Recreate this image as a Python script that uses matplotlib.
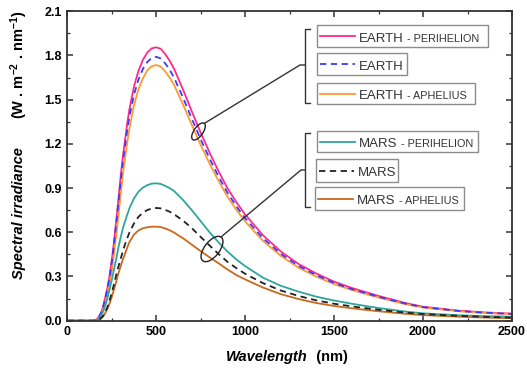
import matplotlib
matplotlib.use("Agg")
import matplotlib.pyplot as plt
from matplotlib.patches import Ellipse, Rectangle
from matplotlib.lines import Line2D
from matplotlib.transforms import Affine2D
from matplotlib.ticker import MultipleLocator

plt.rcParams['font.family'] = ['Liberation Sans', 'DejaVu Sans']
plt.rcParams['mathtext.fontset'] = 'custom'
plt.rcParams['mathtext.bf'] = 'Liberation Sans:bold'
plt.rcParams['mathtext.rm'] = 'Liberation Sans:bold'
plt.rcParams['mathtext.default'] = 'bf'

# data (nm, W m-2 nm-1)
wavelength = [0, 100, 150, 165, 180, 190, 200, 212, 225, 237, 250, 262, 275, 287, 300,
              312, 325, 337, 350, 375, 400, 425, 450, 475, 500,
              525, 550, 575, 600, 650, 700, 750, 800, 850, 900, 950, 1000,
              1100, 1200, 1300, 1400, 1500, 1600, 1750, 1900, 2000, 2200, 2350, 2500]
earth_peri = [0, 0, 0, 0.01, 0.03, 0.055, 0.09, 0.15, 0.22, 0.30, 0.41, 0.53, 0.68, 0.82, 0.98,
              1.11, 1.23, 1.34, 1.44, 1.59, 1.695, 1.77, 1.82, 1.848, 1.855,
              1.845, 1.81, 1.765, 1.71, 1.57, 1.42, 1.275, 1.14, 1.015, 0.90, 0.805, 0.72,
              0.58, 0.47, 0.385, 0.32, 0.265, 0.222, 0.168, 0.12, 0.095, 0.068, 0.056, 0.048]
earth = [0, 0, 0, 0.01, 0.029, 0.053, 0.087, 0.145, 0.212, 0.29, 0.396, 0.511, 0.656, 0.791, 0.946,
         1.071, 1.187, 1.293, 1.39, 1.534, 1.636, 1.708, 1.756, 1.783, 1.79,
         1.78, 1.747, 1.703, 1.65, 1.515, 1.37, 1.23, 1.10, 0.979, 0.869, 0.777, 0.695,
         0.56, 0.454, 0.372, 0.309, 0.256, 0.214, 0.162, 0.116, 0.092, 0.066, 0.054, 0.046]
earth_aph = [0, 0, 0, 0.005, 0.022, 0.041, 0.07, 0.115, 0.18, 0.25, 0.34, 0.45, 0.58, 0.71, 0.855,
             0.99, 1.105, 1.21, 1.31, 1.463, 1.57, 1.644, 1.70, 1.726, 1.735,
             1.725, 1.692, 1.65, 1.60, 1.468, 1.328, 1.192, 1.066, 0.949, 0.842, 0.753, 0.673,
             0.542, 0.44, 0.36, 0.299, 0.248, 0.208, 0.157, 0.112, 0.089, 0.064, 0.052, 0.045]
mars_peri = [0, 0, 0, 0.002, 0.015, 0.035, 0.058, 0.095, 0.15, 0.21, 0.275, 0.345, 0.42, 0.495, 0.565,
             0.625, 0.675, 0.72, 0.765, 0.83, 0.875, 0.903, 0.92, 0.93, 0.932,
             0.928, 0.915, 0.9, 0.88, 0.82, 0.75, 0.675, 0.60, 0.532, 0.47, 0.416, 0.37,
             0.292, 0.237, 0.197, 0.163, 0.137, 0.115, 0.086, 0.062, 0.05, 0.037, 0.031, 0.027]
mars = [0, 0, 0, 0.001, 0.008, 0.018, 0.03, 0.055, 0.09, 0.135, 0.19, 0.245, 0.31, 0.365, 0.42,
        0.47, 0.52, 0.56, 0.60, 0.66, 0.705, 0.733, 0.751, 0.761, 0.765,
        0.762, 0.752, 0.74, 0.722, 0.68, 0.628, 0.568, 0.51, 0.453, 0.40, 0.357, 0.318,
        0.255, 0.205, 0.168, 0.138, 0.115, 0.097, 0.074, 0.055, 0.045, 0.033, 0.026, 0.021]
mars_aph = [0, 0, 0, 0.001, 0.007, 0.015, 0.027, 0.048, 0.08, 0.115, 0.16, 0.21, 0.265, 0.32, 0.37,
            0.415, 0.455, 0.497, 0.535, 0.585, 0.612, 0.627, 0.634, 0.638, 0.638,
            0.635, 0.626, 0.614, 0.598, 0.56, 0.516, 0.472, 0.43, 0.39, 0.348, 0.31, 0.28,
            0.225, 0.18, 0.147, 0.12, 0.10, 0.084, 0.064, 0.047, 0.038, 0.027, 0.021, 0.017]

c_ep, c_e, c_ea = "#ff2a8a", "#3b3bff", "#ff9a30"
c_mp, c_m, c_ma = "#2fa59c", "#222222", "#c8691e"

fig = plt.figure(figsize=(5.27, 3.73), dpi=100)
ax = fig.add_axes([67.3 / 527, 52.3 / 373, 444.7 / 527, 309.5 / 373])

ax.plot(wavelength, earth_peri, color=c_ep, lw=1.3)
ax.plot(wavelength, earth_aph, color=c_ea, lw=1.3)
ax.plot(wavelength, earth, color=c_e, lw=1.3, dashes=(3.5, 2.5))
ax.plot(wavelength, mars_peri, color=c_mp, lw=1.3)
ax.plot(wavelength, mars_aph, color=c_ma, lw=1.3)
ax.plot(wavelength, mars, color=c_m, lw=1.3, dashes=(3.5, 2.5))

ax.set_xlim(0, 2500)
ax.set_ylim(0, 2.1)
ax.xaxis.set_major_locator(MultipleLocator(500))
ax.xaxis.set_minor_locator(MultipleLocator(250))
ax.yaxis.set_major_locator(MultipleLocator(0.3))
ax.yaxis.set_minor_locator(MultipleLocator(0.15))
ax.yaxis.set_major_formatter(plt.FuncFormatter(lambda v, p: f"{v:.1f}"))
ax.tick_params(which='both', direction='in', top=True, right=True, color='#333333')
ax.tick_params(which='major', length=4, width=1.1, labelsize=9, pad=4)
ax.tick_params(which='minor', length=2.5, width=0.9)
for lab in ax.get_xticklabels() + ax.get_yticklabels():
    lab.set_fontweight('bold')
for s in ax.spines.values():
    s.set_linewidth(1.3)
    s.set_color('#333333')

# pixel helper (image coords, origin top-left)
px = Affine2D().scale(0.01, -0.01).translate(0, 3.73) + fig.dpi_scale_trans

# axis labels
t = fig.text(226, 357, "Wavelength", transform=px, ha='left', va='center',
             fontsize=10.5, fontweight='bold', fontstyle='italic')
ax.annotate("  (nm)", xy=(1, 0), xycoords=t, ha='left', va='bottom',
            fontsize=10.5, fontweight='bold', annotation_clip=False)
fig.text(19, 213, "Spectral irradiance", transform=px, ha='center', va='center',
         rotation=90, fontsize=10.5, fontweight='bold', fontstyle='italic')
fig.text(19, 65, r"(W . m$^{-2}$ . nm$^{-1}$)", transform=px, ha='center', va='center',
         rotation=90, fontsize=10.5, fontweight='bold')

# legend boxes
entries = [
    ("EARTH", " - PERIHELION", c_ep, None, (317, 25, 488, 47)),
    ("EARTH", "", c_e, (3.5, 2.5), (317, 53, 407, 75)),
    ("EARTH", " - APHELIUS", c_ea, None, (317, 83, 475, 104)),
    ("MARS", " - PERIHELION", c_mp, None, (317, 131, 478, 152)),
    ("MARS", "", c_m, (3.5, 2.5), (316, 159, 398, 182)),
    ("MARS", " - APHELIUS", c_ma, None, (315, 187, 464, 210)),
]
for big, small, col, dash, (x0, y0, x1, y1) in entries:
    fig.add_artist(Rectangle((x0, y0), x1 - x0, y1 - y0, transform=px, fill=False,
                             ec='#8c8c8c', lw=1.0))
    ym = (y0 + y1) / 2
    ln = Line2D([x0 + 3, x0 + 38], [ym, ym], transform=px, color=col, lw=1.3)
    if dash:
        ln.set_dashes(dash)
    fig.add_artist(ln)
    base = ym + 5.5
    tb = fig.text(x0 + 42, base, big, transform=px, ha='left', va='baseline',
                  fontsize=9.5, color='#333333')
    if small:
        ax.annotate(small, xy=(1, base), xycoords=(tb, px), ha='left', va='baseline',
                    fontsize=7.8, color='#333333', annotation_clip=False)

# brackets and callouts
br = dict(transform=px, color='#333333', lw=1.0)
fig.add_artist(Line2D([310, 305, 305, 310], [29, 29, 103, 103], **br))
fig.add_artist(Line2D([305, 300, 205], [65, 65, 123], **br))
fig.add_artist(Line2D([310, 305, 305, 310], [133, 133, 207, 207], **br))
fig.add_artist(Line2D([305, 301, 221], [170, 170, 237], **br))
fig.add_artist(Ellipse((198.5, 131.5), 20, 9, angle=-55, transform=px,
                       fill=False, ec='#222222', lw=1.0))
fig.add_artist(Ellipse((212, 249), 30, 15, angle=-52, transform=px,
                       fill=False, ec='#222222', lw=1.0))

fig.savefig("out.png", dpi=100)
